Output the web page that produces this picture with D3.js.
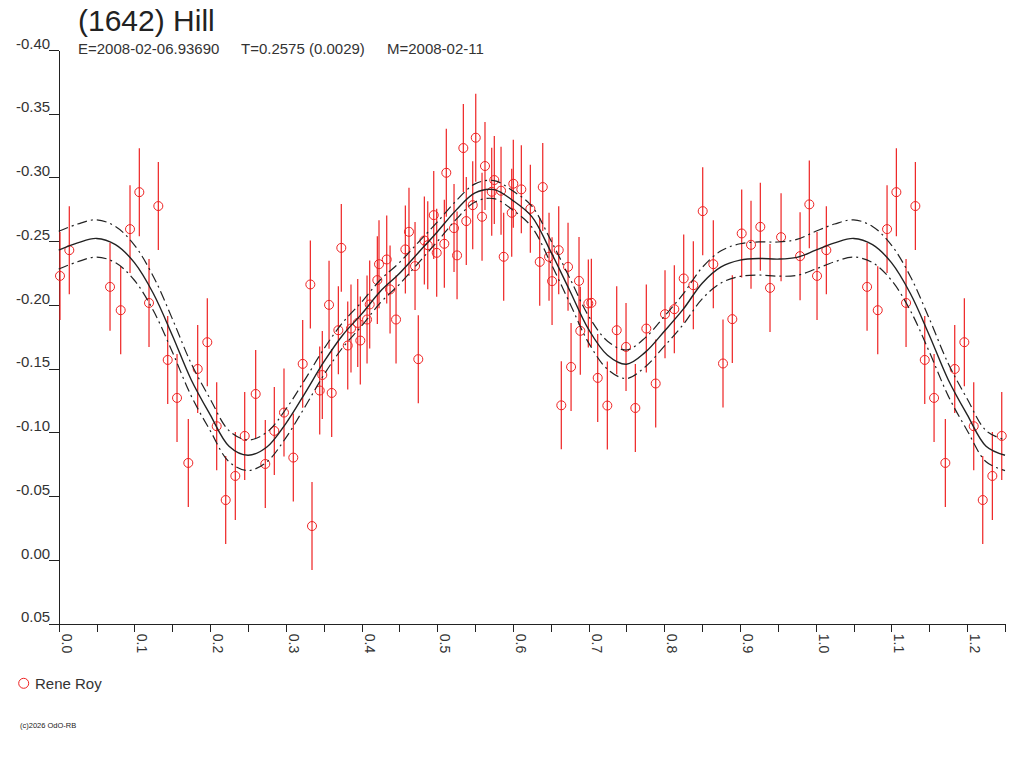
<!DOCTYPE html>
<html>
<head>
<meta charset="utf-8">
<script src="https://cdn.jsdelivr.net/npm/d3@7"></script>
<style>
    body { margin: 0; background: #fff; }
    svg { display: block; font-family: "Liberation Sans", Arial, sans-serif; }
</style>
</head>
<body>
<svg id="chart" width="1024" height="768"></svg>
<script>
const width = 1024;
const height = 768;

// observations (phase 0..1), magnitude
const obsPhase = [0.0017,0.0140,0.0678,0.0819,0.0942,0.1065,0.1193,0.1316,0.1440,0.1563,0.1712,0.1836,0.1963,0.2087,
    0.2206,0.2333,0.2457,0.2602,0.2729,0.2848,0.2976,0.3099,0.3223,0.3324,0.3346,0.3448,0.3482,0.3571,0.3606,0.3694,
    0.3733,0.3818,0.3861,0.3950,0.3984,0.4073,0.4108,0.4209,0.4231,0.4333,0.4377,0.4456,0.4579,0.4627,0.4707,0.4750,
    0.4830,0.4875,0.4954,0.4993,0.5094,0.5120,0.5222,0.5262,0.5345,0.5384,0.5469,0.5509,0.5592,0.5631,0.5720,0.5754,
    0.5843,0.5878,0.5984,0.6005,0.6111,0.6230,0.6354,0.6394,0.6477,0.6517,0.6605,0.6639,0.6728,0.6768,0.6873,0.6890,
    0.6996,0.7036,0.7120,0.7247,0.7371,0.7494,0.7617,0.7762,0.7886,0.8009,0.8132,0.8256,0.8383,0.8507,0.8647,0.8775,
    0.8898,0.9022,0.9145,0.9268,0.9396,0.9542,0.9793,0.9915];
const obsMag = [-0.2228,-0.2430,-0.2142,-0.1959,-0.2595,-0.2885,-0.2016,-0.2776,-0.1569,-0.1271,-0.0761,-0.1498,-0.1708,-0.1049,
    -0.0470,-0.0659,-0.0973,-0.1302,-0.0753,-0.1012,-0.1156,-0.0803,-0.1538,-0.2161,-0.0266,-0.1329,-0.1451,-0.2001,-0.1310,-0.1802,
    -0.2448,-0.1682,-0.1815,-0.1859,-0.1721,-0.1886,-0.2004,-0.2195,-0.2320,-0.2357,-0.2122,-0.1886,-0.2436,-0.2574,-0.2305,-0.1575,
    -0.2506,-0.2469,-0.2705,-0.2409,-0.2480,-0.3037,-0.2603,-0.2389,-0.3231,-0.2658,-0.2783,-0.3312,-0.2692,-0.3090,-0.2888,-0.2980,
    -0.2896,-0.2378,-0.2723,-0.2951,-0.2907,-0.2754,-0.2338,-0.2925,-0.2378,-0.2187,-0.2430,-0.1213,-0.2299,-0.1514,-0.2189,-0.1797,
    -0.2012,-0.2017,-0.1428,-0.1211,-0.1802,-0.1671,-0.1192,-0.1815,-0.1384,-0.1928,-0.1967,-0.2208,-0.2155,-0.2736,-0.2320,-0.1541,
    -0.1889,-0.2561,-0.2472,-0.2613,-0.2134,-0.2532,-0.2383,-0.2789];
const obsErr = 0.0345;

// fitted lightcurve, sampled every 0.025 in phase (0..1)
const fitMag = [-0.2430,-0.2487,-0.2522,-0.2474,-0.2332,-0.2090,-0.1763,-0.1414,-0.1140,-0.0892,
    -0.0821,-0.0886,-0.1070,-0.1305,-0.1551,-0.1763,-0.1928,-0.2108,-0.2247,-0.2410,
    -0.2573,-0.2744,-0.2879,-0.2905,-0.2819,-0.2693,-0.2418,-0.2114,-0.1808,-0.1606,
    -0.1535,-0.1630,-0.1794,-0.1967,-0.2171,-0.2299,-0.2352,-0.2365,-0.2360,-0.2373,-0.2430];
// half width of the envelope
const fitBand = [0.0148,0.0148,0.0146,0.0142,0.0138,0.0134,0.0130,0.0127,0.0124,0.0122,
    0.0120,0.0116,0.0112,0.0107,0.0102,0.0098,0.0094,0.0090,0.0085,0.0081,
    0.0077,0.0073,0.0071,0.0071,0.0075,0.0082,0.0090,0.0098,0.0105,0.0110,
    0.0112,0.0114,0.0117,0.0120,0.0123,0.0126,0.0128,0.0130,0.0134,0.0141,0.0148];
const fitStep = 0.025;

const yTicks = [-0.40,-0.35,-0.30,-0.25,-0.20,-0.15,-0.10,-0.05,0.00,0.05];
const xTicks = [0,0.05,0.1,0.15,0.2,0.25,0.3,0.35,0.4,0.45,0.5,0.55,0.6,0.65,0.7,0.75,0.8,0.85,0.9,0.95,1.0,1.05,1.1,1.15,1.2,1.25];
const xLabeled = [0,0.1,0.2,0.3,0.4,0.5,0.6,0.7,0.8,0.9,1.0,1.1,1.2];

const title = "(1642) Hill";
const subtitle = ["E=2008-02-06.93690", "T=0.2575 (0.0029)", "M=2008-02-11"];
const observer = "Rene Roy";
const credit = "(c)2026 OdO-RB";

const red = "#ee2222";
const ink = "#222";

const svg = d3.select("#chart");

const x = d3.scaleLinear().domain([0, 1.25]).range([58.7, 1005]);
const y = d3.scaleLinear().domain([-0.40, 0.05]).range([50, 623.7]);

const fmt = d3.formatLocale({decimal: ".", thousands: ",", grouping: [3], currency: ["", ""], minus: "-"}).format("0.2f");

// phase wraps: repeat the first quarter after 1.0
const points = [];
obsPhase.forEach((p, i) => {
    points.push({p: p, m: obsMag[i]});
    if (p + 1 <= 1.25) points.push({p: p + 1, m: obsMag[i]});
});

const fit = [];
for (let k = 0; k * fitStep <= 1.25 + 1e-9; k++) {
    const j = k % (fitMag.length - 1);
    fit.push({p: k * fitStep, m: fitMag[j], b: fitBand[j]});
}

// title
svg.append("text").attr("x", 78).attr("y", 31).attr("font-size", 30).attr("fill", ink).text(title);
const subX = [78, 241, 387];
subtitle.forEach((s, i) => {
    svg.append("text").attr("x", subX[i]).attr("y", 54).attr("font-size", 15).attr("fill", "#333").text(s);
});

// axes
const yAxis = svg.append("g")
    .attr("transform", `translate(${x(0)},0)`)
    .call(d3.axisLeft(y).tickValues(yTicks).tickFormat(fmt).tickSize(9.5).tickSizeOuter(0));
yAxis.selectAll("text")
    .attr("x", -8.5)
    .attr("dy", "-0.12em")
    .attr("font-size", 15)
    .attr("fill", "#333");

const xAxis = svg.append("g")
    .attr("transform", `translate(0,${y(0.05)})`)
    .call(d3.axisBottom(x).tickValues(xTicks).tickSize(8).tickSizeOuter(0)
        .tickFormat(d => xLabeled.some(v => Math.abs(v - d) < 1e-6) ? d3.format(".1f")(d) : ""));
xAxis.selectAll("text")
    .attr("transform", "rotate(90)")
    .attr("text-anchor", "start")
    .attr("x", 10)
    .attr("y", -2.5)
    .attr("dy", 0)
    .attr("font-size", 14)
    .attr("fill", "#333");

svg.selectAll(".domain, .tick line").attr("stroke", ink).attr("shape-rendering", "crispEdges");
svg.selectAll(".tick text").attr("font-family", "Liberation Sans, Arial, sans-serif");

// observations
const obs = svg.append("g");
obs.selectAll("line")
    .data(points)
    .enter()
    .append("line")
    .attr("x1", d => x(d.p))
    .attr("x2", d => x(d.p))
    .attr("y1", d => y(d.m - obsErr))
    .attr("y2", d => y(d.m + obsErr))
    .attr("stroke", red)
    .attr("stroke-width", 1.2);
obs.selectAll("circle")
    .data(points)
    .enter()
    .append("circle")
    .attr("cx", d => x(d.p))
    .attr("cy", d => y(d.m))
    .attr("r", 4.5)
    .attr("fill", "none")
    .attr("stroke", red)
    .attr("stroke-width", 1);

// fit and its envelope
const line = d3.line().x(d => x(d.p)).curve(d3.curveCatmullRom);
svg.append("path")
    .attr("d", line.y(d => y(d.m - d.b))(fit))
    .attr("fill", "none").attr("stroke", ink).attr("stroke-width", 1.2)
    .attr("stroke-dasharray", "10,4,2,4");
svg.append("path")
    .attr("d", line.y(d => y(d.m + d.b))(fit))
    .attr("fill", "none").attr("stroke", ink).attr("stroke-width", 1.2)
    .attr("stroke-dasharray", "10,4,2,4");
svg.append("path")
    .attr("d", line.y(d => y(d.m))(fit))
    .attr("fill", "none").attr("stroke", ink).attr("stroke-width", 1.4);

// legend
svg.append("circle").attr("cx", 23.7).attr("cy", 683.3).attr("r", 5)
    .attr("fill", "none").attr("stroke", red).attr("stroke-width", 1);
svg.append("text").attr("x", 35).attr("y", 689).attr("font-size", 15).attr("fill", "#333").text(observer);

svg.append("text").attr("x", 20).attr("y", 727.5).attr("font-size", 7.5).attr("fill", ink).text(credit);
</script>
</body>
</html>
